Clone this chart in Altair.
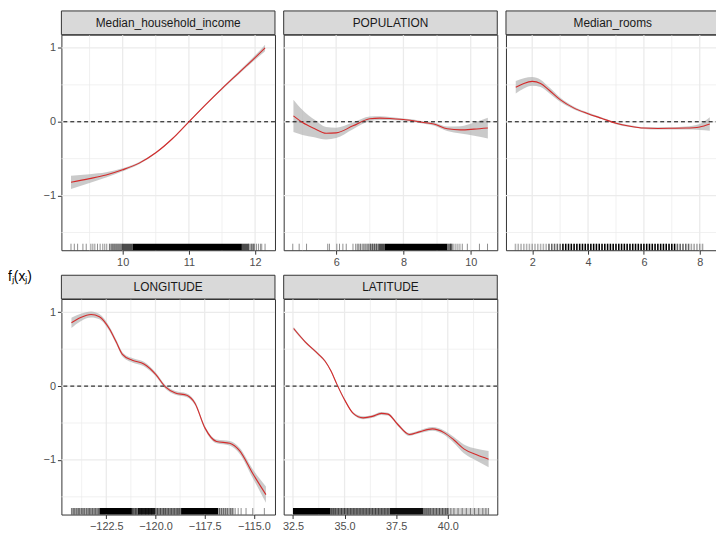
import altair as alt
import pandas as pd

# ---------------- data ----------------
panel_names = ["Median_household_income", "POPULATION", "Median_rooms", "LONGITUDE", "LATITUDE"]

inc_x = [9.22, 9.5, 9.75, 10.0, 10.25, 10.5, 10.75, 11.0, 11.25, 11.5, 11.75, 12.0, 12.15]
inc_fit = [-0.82, -0.77, -0.72, -0.65, -0.56, -0.42, -0.23, 0.0, 0.23, 0.45, 0.66, 0.87, 1.0]
inc_se = [0.09, 0.06, 0.035, 0.02, 0.015, 0.01, 0.01, 0.01, 0.01, 0.015, 0.02, 0.03, 0.045]

pop_x = [4.73, 5.0, 5.35, 5.7, 6.0, 6.5, 7.0, 7.3, 7.6, 8.0, 8.3, 8.6, 8.9, 9.3, 9.7, 10.1, 10.51]
pop_fit = [0.08, -0.01, -0.09, -0.155, -0.15, -0.055, 0.04, 0.05, 0.045, 0.03, 0.015, -0.01, -0.03, -0.095, -0.11, -0.10, -0.085]
pop_se = [0.22, 0.17, 0.12, 0.085, 0.07, 0.045, 0.03, 0.025, 0.02, 0.015, 0.015, 0.015, 0.02, 0.03, 0.05, 0.09, 0.14]

rooms_x = [1.41, 1.7, 2.0, 2.3, 2.6, 3.0, 3.5, 4.0, 4.5, 5.0, 5.5, 6.0, 6.5, 7.0, 7.5, 8.0, 8.36]
rooms_fit = [0.467, 0.52, 0.547, 0.52, 0.43, 0.30, 0.185, 0.11, 0.045, -0.02, -0.06, -0.085, -0.09, -0.088, -0.085, -0.07, -0.03]
rooms_se = [0.085, 0.07, 0.06, 0.05, 0.04, 0.03, 0.02, 0.015, 0.012, 0.012, 0.012, 0.012, 0.015, 0.015, 0.02, 0.04, 0.09]

lon_x = [-124.27, -123.8, -123.27, -122.85, -122.35, -122.0, -121.68, -121.18, -120.59, -120.0,
         -119.5, -118.99, -118.41, -117.99, -117.49, -116.9, -116.23, -115.73, -115.06, -114.39]
lon_fit = [0.857, 0.93, 0.97, 0.94, 0.78, 0.6, 0.43, 0.35, 0.30, 0.163,
           -0.01, -0.093, -0.125, -0.235, -0.566, -0.75, -0.775, -0.875, -1.185, -1.47]
lon_se = [0.07, 0.05, 0.04, 0.035, 0.03, 0.03, 0.03, 0.03, 0.03, 0.025,
          0.025, 0.025, 0.025, 0.025, 0.025, 0.025, 0.03, 0.04, 0.06, 0.11]

lat_x = [32.53, 33.09, 33.74, 34.05, 34.35, 34.62, 35.01, 35.42, 35.9, 36.35, 36.78,
         37.1, 37.58, 38.14, 38.62, 39.26, 39.82, 40.3, 40.78, 41.4, 41.98]
lat_fit = [0.78, 0.6, 0.43, 0.34, 0.2, 0.03, -0.19, -0.37, -0.43, -0.41, -0.37,
           -0.38, -0.52, -0.655, -0.62, -0.58, -0.63, -0.73, -0.85, -0.93, -0.99]
lat_se = [0.02, 0.015, 0.015, 0.015, 0.015, 0.015, 0.015, 0.015, 0.02, 0.02, 0.02,
          0.02, 0.02, 0.02, 0.02, 0.025, 0.03, 0.04, 0.06, 0.08, 0.11]

# axis breaks (major labelled, minor grid only)
inc_major, inc_minor = [10.0, 11.0, 12.0], [9.5, 10.5, 11.5]
pop_major, pop_minor = [6.0, 8.0, 10.0], [5.0, 7.0, 9.0]
rooms_major, rooms_minor = [2.0, 4.0, 6.0, 8.0], [3.0, 5.0, 7.0]
lon_major, lon_minor = [-122.5, -120.0, -117.5, -115.0], [-123.75, -121.25, -118.75, -116.25]
lat_major, lat_minor = [32.5, 35.0, 37.5, 40.0], [33.75, 36.25, 38.75, 41.25]
y_major, y_minor = [-1.0, 0.0, 1.0], [-1.5, -0.5, 0.5]

# rug: sparse ticks and dense stretches (start, end, darkness)
inc_rug = [9.22, 9.27, 9.32, 9.40, 9.45, 9.52, 9.55, 9.58, 9.62, 9.66, 9.7, 9.73, 9.76, 9.8, 9.84,
           9.87, 9.9, 9.93, 9.96, 11.9, 11.95, 11.98, 12.02, 12.05, 12.08, 12.1, 12.15]
inc_rug_s = [9.8, 9.98, 10.15, 11.8, 11.9]
inc_rug_e = [9.98, 10.15, 11.8, 11.9, 12.0]
inc_rug_a = [0.35, 0.7, 1.0, 0.7, 0.35]

pop_rug = [4.71, 4.9, 5.12, 5.75, 5.8, 6.02, 6.1, 6.2, 6.3, 6.5, 6.58, 6.65, 6.72, 6.8, 6.86,
           6.92, 6.97, 7.02, 7.08, 7.14, 7.2, 9.4, 9.45, 9.5, 9.56, 9.62, 9.68, 9.75, 9.9, 10.26, 10.5]
pop_rug_s = [6.6, 7.0, 7.25, 7.45, 9.3]
pop_rug_e = [7.0, 7.25, 7.45, 9.3, 9.45]
pop_rug_a = [0.2, 0.4, 0.7, 1.0, 0.55]

rooms_rug = [1.4, 1.5, 1.6, 1.7, 1.8, 1.9, 2.0, 2.1, 2.2, 2.3, 2.4, 2.5, 2.6, 2.7, 2.8, 2.9, 3.0,
             3.1, 3.2, 3.3, 3.4, 3.5, 3.6, 3.7, 3.8, 3.9, 4.0, 4.1, 4.2, 4.3, 4.4, 4.5, 4.6, 4.7,
             4.8, 4.9, 5.0, 5.1, 5.2, 5.3, 5.4, 5.5, 5.6, 5.7, 5.8, 5.9, 6.0, 6.1, 6.2, 6.3, 6.4,
             6.5, 6.6, 6.7, 6.8, 6.9, 7.0, 7.1, 7.2, 7.3, 7.4, 7.5, 7.6, 7.7, 7.8, 7.9, 8.0, 8.1]
rooms_rug_alpha = [0.3, 0.3, 0.3, 0.3, 0.3, 0.3, 0.3, 0.3, 0.3, 0.3, 0.3, 0.3, 0.6, 0.6, 0.6, 0.6, 0.6,
                   1.0, 1.0, 1.0, 1.0, 1.0, 1.0, 1.0, 1.0, 1.0, 1.0, 1.0, 1.0, 1.0, 1.0, 1.0, 1.0, 1.0,
                   1.0, 1.0, 1.0, 1.0, 1.0, 1.0, 1.0, 1.0, 1.0, 1.0, 1.0, 1.0, 1.0, 1.0, 1.0, 1.0, 1.0,
                   1.0, 1.0, 1.0, 1.0, 1.0, 1.0, 1.0, 0.6, 0.6, 0.6, 0.6, 0.6, 0.35, 0.35, 0.35, 0.35, 0.35]
rooms_rug_s, rooms_rug_e, rooms_rug_a = [], [], []

lon_rug = [-124.27, -124.18, -124.1, -124.0, -123.92, -123.85, -123.75, -123.68, -123.6, -123.5,
           -123.42, -123.35, -123.28, -123.2, -123.12, -123.05, -122.97, -122.9,
           -121.25, -121.15, -121.0, -120.85, -120.7, -120.5, -120.35, -120.2,
           -119.9, -119.75, -119.6, -119.5, -119.35, -119.2, -119.05, -118.9, -118.8,
           -116.75, -116.65, -116.55, -116.45, -116.35, -116.2, -116.1, -115.95, -115.8,
           -115.65, -115.4, -115.06, -114.47]
lon_rug_s = [-124.27, -122.85, -121.2, -120.9, -120.0, -118.7, -116.82]
lon_rug_e = [-122.85, -121.2, -120.9, -120.0, -118.7, -116.82, -116.0]
lon_rug_a = [0.3, 1.0, 0.6, 0.9, 0.5, 1.0, 0.3]

lat_rug = [34.35, 34.45, 34.55, 34.7, 34.85, 35.0, 35.15, 35.3, 35.45, 35.6, 35.75, 35.9, 36.05,
           36.2, 36.35, 36.5, 36.65, 36.8, 36.95, 37.1, 38.85, 38.95, 39.05, 39.15, 39.3, 39.45,
           39.6, 39.75, 39.9, 40.0, 40.15, 40.3, 40.5, 40.7, 40.9, 41.1, 41.3, 41.5, 41.7, 41.85, 41.98]
lat_rug_s = [32.5, 34.3, 37.2, 38.8, 40.05]
lat_rug_e = [34.3, 37.2, 38.8, 40.05, 41.98]
lat_rug_a = [1.0, 0.55, 0.95, 0.45, 0.18]

# ---------------- style ----------------
W, H = 216, 218
STRIP_H = 24
RUG_H = 6.6
YDOM = [-1.74, 1.18]
FONT = "Liberation Sans"
LINE_COLOR = "#D42A2A"
BAND_COLOR = "#B3B3B3"
GRID = "#EBEBEB"
DARK = "#333333"
LABEL = "#4D4D4D"
COL_GAP, ROW_GAP = 8.8, 49.3
LEFT, TOP = 54, 24          # room left of / above the first panel
SVG_W, SVG_H = 716, 526     # visible drawing size (the rest is cut off, as in the original)


def make_panel(name, xs, fit, se, xdom, xmajor, xminor, xfmt,
               rug, rug_alpha, rs, re_, ra, show_y, title_text=None, rug_w=1.0):
    df = pd.DataFrame({
        "x": xs, "y": fit,
        "lo": [f - s for f, s in zip(fit, se)],
        "hi": [f + s for f, s in zip(fit, se)],
    })
    xsc = alt.Scale(domain=xdom, nice=False, zero=False)
    ysc = alt.Scale(domain=YDOM, nice=False, zero=False)
    xaxis = alt.Axis(title=None, values=xmajor, format=xfmt, grid=False, domain=False,
                     tickSize=4, tickColor=DARK, labelPadding=2, labelFont=FONT,
                     labelFontSize=11, labelColor=LABEL, labelOverlap=False)
    if show_y:
        yaxis = alt.Axis(title=None, values=y_major, format="d", grid=False, domain=False,
                         tickSize=4, tickColor=DARK, labelPadding=2, labelFont=FONT,
                         labelFontSize=11, labelColor=LABEL, labelOverlap=False)
    else:
        yaxis = None
    X = alt.X("x:Q", scale=xsc, axis=xaxis)

    def Y(field):
        return alt.Y(field, scale=ysc, axis=yaxis)

    gx = pd.DataFrame({"x": xmajor + xminor,
                       "w": [1.3] * len(xmajor) + [0.7] * len(xminor)})
    gy = pd.DataFrame({"y": y_major + y_minor,
                       "w": [1.3] * len(y_major) + [0.7] * len(y_minor)})
    grid_x = alt.Chart(gx).mark_rule(color=GRID).encode(
        x=X, strokeWidth=alt.StrokeWidth("w:Q", scale=None))
    grid_y = alt.Chart(gy).mark_rule(color=GRID).encode(
        y=Y("y:Q"), strokeWidth=alt.StrokeWidth("w:Q", scale=None))

    band = alt.Chart(df).mark_area(interpolate="monotone", color=BAND_COLOR, opacity=0.7).encode(
        x=X, y=Y("lo:Q"), y2="hi:Q")
    zero = alt.Chart(pd.DataFrame({"y": [0.0]})).mark_rule(
        color="black", strokeWidth=1, strokeDash=[4, 3]).encode(y=Y("y:Q"))
    line = alt.Chart(df).mark_line(interpolate="monotone", color=LINE_COLOR, strokeWidth=1.1).encode(
        x=X, y=Y("y:Q"))
    layers = [grid_x, grid_y, band, zero, line]

    if rs:
        bdf = pd.DataFrame({"x": rs, "x2": re_, "a": ra})
        layers.append(alt.Chart(bdf).mark_rect(color="black").encode(
            x=X, x2="x2:Q", y=alt.value(H - RUG_H), y2=alt.value(H),
            opacity=alt.Opacity("a:Q", scale=None)))
    tdf = pd.DataFrame({"x": rug, "a": rug_alpha})
    layers.append(alt.Chart(tdf).mark_rule(color="black", strokeWidth=rug_w).encode(
        x=X, y=alt.value(H - RUG_H), y2=alt.value(H),
        opacity=alt.Opacity("a:Q", scale=None)))

    sdf = pd.DataFrame({"label": [name]})
    layers.append(alt.Chart(sdf).mark_rect(fill="#D9D9D9", stroke=DARK, strokeWidth=1).encode(
        x=alt.value(0), x2=alt.value(W), y=alt.value(-STRIP_H), y2=alt.value(0)))
    layers.append(alt.Chart(sdf).mark_text(font=FONT, fontSize=12, color="#1A1A1A",
                                           baseline="middle", align="center").encode(
        x=alt.value(W / 2), y=alt.value(-STRIP_H / 2), text="label:N"))
    if title_text:
        layers.append(alt.Chart(pd.DataFrame({"t": [title_text]})).mark_text(
            font=FONT, fontSize=14, color="black", align="left", baseline="middle").encode(
            x=alt.value(-LEFT), y=alt.value(H + 27), text="t:N"))

    return alt.layer(*layers).properties(
        width=W, height=H, view=alt.ViewBackground(stroke=DARK, strokeWidth=1, fill="white"))


p1 = make_panel(panel_names[0], inc_x, inc_fit, inc_se, [9.075, 12.3], inc_major, inc_minor, "d",
                inc_rug, [0.45] * len(inc_rug), inc_rug_s, inc_rug_e, inc_rug_a, True,
                title_text="fⱼ(xⱼ)")
p2 = make_panel(panel_names[1], pop_x, pop_fit, pop_se, [4.44, 10.79], pop_major, pop_minor, "d",
                pop_rug, [0.45] * len(pop_rug), pop_rug_s, pop_rug_e, pop_rug_a, False)
p3 = make_panel(panel_names[2], rooms_x, rooms_fit, rooms_se, [1.06, 8.71], rooms_major, rooms_minor, "d",
                rooms_rug, rooms_rug_alpha, rooms_rug_s, rooms_rug_e, rooms_rug_a, False, rug_w=1.6)
p4 = make_panel(panel_names[3], lon_x, lon_fit, lon_se, [-124.78, -113.93], lon_major, lon_minor, ".1f",
                lon_rug, [0.45] * len(lon_rug), lon_rug_s, lon_rug_e, lon_rug_a, True)
p5 = make_panel(panel_names[4], lat_x, lat_fit, lat_se, [32.05, 42.4], lat_major, lat_minor, ".1f",
                lat_rug, [0.45] * len(lat_rug), lat_rug_s, lat_rug_e, lat_rug_a, False)

chart = alt.concat(
    p1, p2, p3, p4, p5, columns=3, spacing={"row": ROW_GAP, "column": COL_GAP}, bounds="flush"
).properties(
    autosize=alt.AutoSizeParams(type="none"),
    padding={"left": LEFT, "top": TOP, "right": SVG_W - LEFT, "bottom": SVG_H - TOP},
).configure(background="white")

chart.save("out.html", embed_options={"renderer": "svg", "actions": False})
